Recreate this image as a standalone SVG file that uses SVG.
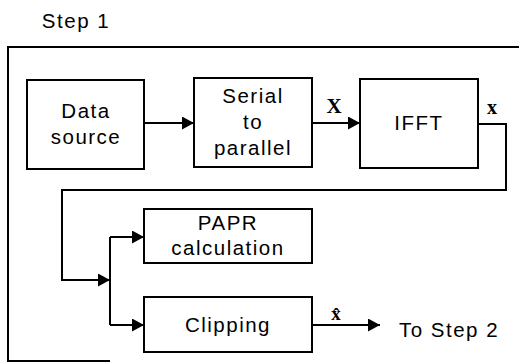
<svg xmlns="http://www.w3.org/2000/svg" width="519" height="362" viewBox="0 0 519 362">
<style>
.box{fill:#fff;stroke:#000;stroke-width:2}
.ln{fill:none;stroke:#000;stroke-width:2}
.t{font-family:"Liberation Sans",Arial,sans-serif;font-size:20.5px;letter-spacing:1.5px;fill:#000;text-anchor:middle}
.v{font-family:"Liberation Serif","Times New Roman",serif;font-weight:bold;fill:#000;text-anchor:middle}
</style>
<defs>
<marker id="ah" markerWidth="12" markerHeight="13" refX="12" refY="6.5" orient="auto" markerUnits="userSpaceOnUse">
<path d="M0,0 L12,6.5 L0,13 Z" fill="#000"/>
</marker>
</defs>
<rect width="519" height="362" fill="#fff"/>
<text class="t" x="76" y="28">Step 1</text>
<path class="ln" d="M519,47 H8 V361 H110"/>
<g id="connectors">
<line class="ln" x1="144" y1="123" x2="194" y2="123" marker-end="url(#ah)"/>
<line class="ln" x1="312" y1="123" x2="360" y2="123" marker-end="url(#ah)"/>
<path class="ln" d="M478,124 H506 V190 H62 V280 H110" marker-end="url(#ah)"/>
<line class="ln" x1="110" y1="237" x2="110" y2="325"/>
<line class="ln" x1="110" y1="237" x2="144" y2="237" marker-end="url(#ah)"/>
<line class="ln" x1="110" y1="325" x2="144" y2="325" marker-end="url(#ah)"/>
<line class="ln" x1="312" y1="325" x2="380" y2="325" marker-end="url(#ah)"/>
<text class="v" x="334" y="113" font-size="21">X</text>
<text class="v" x="492" y="114" font-size="20">x</text>
<text class="v" x="336" y="320" font-size="19">x̂</text>
</g>
<g id="data-source">
<rect class="box" x="27" y="80" width="117" height="89"/>
<text class="t" x="86" y="118">Data</text>
<text class="t" x="86" y="144">source</text>
</g>
<g id="serial-to-parallel">
<rect class="box" x="194" y="78" width="118" height="89"/>
<text class="t" x="253" y="103">Serial</text>
<text class="t" x="253" y="129">to</text>
<text class="t" x="253" y="155">parallel</text>
</g>
<g id="ifft">
<rect class="box" x="360" y="79" width="118" height="89"/>
<text class="t" x="419" y="130">IFFT</text>
</g>
<g id="papr">
<rect class="box" x="144" y="209" width="168" height="54"/>
<text class="t" x="228" y="230">PAPR</text>
<text class="t" x="228" y="255">calculation</text>
</g>
<g id="clipping">
<rect class="box" x="144" y="297" width="168" height="55"/>
<text class="t" x="228" y="332">Clipping</text>
</g>
<g id="to-step-2">
<text class="t" x="449" y="337">To Step 2</text>
</g>
</svg>
